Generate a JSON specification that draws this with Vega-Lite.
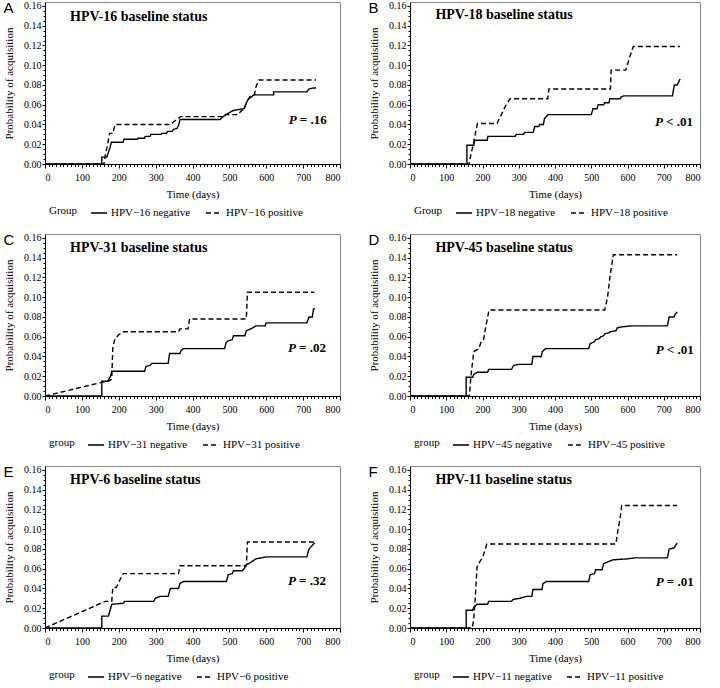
{
  "$schema": "https://vega.github.io/schema/vega-lite/v6.json",
  "padding": {"left": 3, "top": 0, "right": 0, "bottom": 0},
  "background": "white",
  "datasets": {
    "km": [
      {"p":"A","g":"neg","t":0,"y":0},{"p":"A","g":"neg","t":154,"y":0},{"p":"A","g":"neg","t":154,"y":0.007},{"p":"A","g":"neg","t":168,"y":0.007},{"p":"A","g":"neg","t":172,"y":0.012},{"p":"A","g":"neg","t":176,"y":0.016},{"p":"A","g":"neg","t":180,"y":0.022},{"p":"A","g":"neg","t":212,"y":0.022},{"p":"A","g":"neg","t":214,"y":0.025},{"p":"A","g":"neg","t":250,"y":0.025},{"p":"A","g":"neg","t":252,"y":0.026},{"p":"A","g":"neg","t":270,"y":0.026},{"p":"A","g":"neg","t":272,"y":0.028},{"p":"A","g":"neg","t":285,"y":0.028},{"p":"A","g":"neg","t":287,"y":0.030},{"p":"A","g":"neg","t":315,"y":0.030},{"p":"A","g":"neg","t":317,"y":0.031},{"p":"A","g":"neg","t":330,"y":0.031},{"p":"A","g":"neg","t":332,"y":0.033},{"p":"A","g":"neg","t":345,"y":0.033},{"p":"A","g":"neg","t":348,"y":0.035},{"p":"A","g":"neg","t":358,"y":0.036},{"p":"A","g":"neg","t":362,"y":0.039},{"p":"A","g":"neg","t":366,"y":0.045},{"p":"A","g":"neg","t":475,"y":0.045},{"p":"A","g":"neg","t":480,"y":0.047},{"p":"A","g":"neg","t":490,"y":0.050},{"p":"A","g":"neg","t":500,"y":0.052},{"p":"A","g":"neg","t":510,"y":0.054},{"p":"A","g":"neg","t":522,"y":0.055},{"p":"A","g":"neg","t":540,"y":0.056},{"p":"A","g":"neg","t":546,"y":0.062},{"p":"A","g":"neg","t":552,"y":0.066},{"p":"A","g":"neg","t":560,"y":0.068},{"p":"A","g":"neg","t":566,"y":0.070},{"p":"A","g":"neg","t":620,"y":0.070},{"p":"A","g":"neg","t":620,"y":0.073},{"p":"A","g":"neg","t":710,"y":0.073},{"p":"A","g":"neg","t":716,"y":0.076},{"p":"A","g":"neg","t":728,"y":0.077},{"p":"A","g":"neg","t":735,"y":0.077},
      {"p":"A","g":"pos","t":0,"y":0},{"p":"A","g":"pos","t":160,"y":0},{"p":"A","g":"pos","t":164,"y":0.010},{"p":"A","g":"pos","t":170,"y":0.020},{"p":"A","g":"pos","t":175,"y":0.031},{"p":"A","g":"pos","t":184,"y":0.031},{"p":"A","g":"pos","t":190,"y":0.040},{"p":"A","g":"pos","t":340,"y":0.040},{"p":"A","g":"pos","t":350,"y":0.043},{"p":"A","g":"pos","t":365,"y":0.047},{"p":"A","g":"pos","t":367,"y":0.048},{"p":"A","g":"pos","t":488,"y":0.048},{"p":"A","g":"pos","t":490,"y":0.050},{"p":"A","g":"pos","t":525,"y":0.050},{"p":"A","g":"pos","t":530,"y":0.053},{"p":"A","g":"pos","t":540,"y":0.056},{"p":"A","g":"pos","t":548,"y":0.063},{"p":"A","g":"pos","t":555,"y":0.068},{"p":"A","g":"pos","t":568,"y":0.070},{"p":"A","g":"pos","t":572,"y":0.078},{"p":"A","g":"pos","t":580,"y":0.085},{"p":"A","g":"pos","t":735,"y":0.085},
      {"p":"B","g":"neg","t":0,"y":0},{"p":"B","g":"neg","t":157,"y":0},{"p":"B","g":"neg","t":157,"y":0.019},{"p":"B","g":"neg","t":176,"y":0.019},{"p":"B","g":"neg","t":178,"y":0.024},{"p":"B","g":"neg","t":213,"y":0.024},{"p":"B","g":"neg","t":215,"y":0.028},{"p":"B","g":"neg","t":290,"y":0.028},{"p":"B","g":"neg","t":293,"y":0.030},{"p":"B","g":"neg","t":313,"y":0.030},{"p":"B","g":"neg","t":316,"y":0.032},{"p":"B","g":"neg","t":340,"y":0.032},{"p":"B","g":"neg","t":344,"y":0.038},{"p":"B","g":"neg","t":355,"y":0.038},{"p":"B","g":"neg","t":358,"y":0.040},{"p":"B","g":"neg","t":368,"y":0.040},{"p":"B","g":"neg","t":371,"y":0.046},{"p":"B","g":"neg","t":381,"y":0.050},{"p":"B","g":"neg","t":500,"y":0.050},{"p":"B","g":"neg","t":505,"y":0.056},{"p":"B","g":"neg","t":516,"y":0.056},{"p":"B","g":"neg","t":519,"y":0.060},{"p":"B","g":"neg","t":534,"y":0.060},{"p":"B","g":"neg","t":537,"y":0.062},{"p":"B","g":"neg","t":549,"y":0.062},{"p":"B","g":"neg","t":551,"y":0.066},{"p":"B","g":"neg","t":580,"y":0.066},{"p":"B","g":"neg","t":583,"y":0.068},{"p":"B","g":"neg","t":590,"y":0.069},{"p":"B","g":"neg","t":724,"y":0.069},{"p":"B","g":"neg","t":729,"y":0.080},{"p":"B","g":"neg","t":737,"y":0.080},{"p":"B","g":"neg","t":745,"y":0.086},
      {"p":"B","g":"pos","t":0,"y":0},{"p":"B","g":"pos","t":163,"y":0},{"p":"B","g":"pos","t":168,"y":0.010},{"p":"B","g":"pos","t":175,"y":0.020},{"p":"B","g":"pos","t":181,"y":0.032},{"p":"B","g":"pos","t":186,"y":0.041},{"p":"B","g":"pos","t":240,"y":0.041},{"p":"B","g":"pos","t":252,"y":0.050},{"p":"B","g":"pos","t":265,"y":0.060},{"p":"B","g":"pos","t":276,"y":0.066},{"p":"B","g":"pos","t":380,"y":0.066},{"p":"B","g":"pos","t":383,"y":0.076},{"p":"B","g":"pos","t":553,"y":0.076},{"p":"B","g":"pos","t":555,"y":0.095},{"p":"B","g":"pos","t":595,"y":0.095},{"p":"B","g":"pos","t":605,"y":0.107},{"p":"B","g":"pos","t":616,"y":0.119},{"p":"B","g":"pos","t":745,"y":0.119},
      {"p":"C","g":"neg","t":0,"y":0},{"p":"C","g":"neg","t":154,"y":0},{"p":"C","g":"neg","t":154,"y":0.015},{"p":"C","g":"neg","t":172,"y":0.015},{"p":"C","g":"neg","t":174,"y":0.018},{"p":"C","g":"neg","t":178,"y":0.020},{"p":"C","g":"neg","t":181,"y":0.025},{"p":"C","g":"neg","t":270,"y":0.025},{"p":"C","g":"neg","t":274,"y":0.030},{"p":"C","g":"neg","t":285,"y":0.031},{"p":"C","g":"neg","t":290,"y":0.033},{"p":"C","g":"neg","t":334,"y":0.033},{"p":"C","g":"neg","t":338,"y":0.043},{"p":"C","g":"neg","t":366,"y":0.043},{"p":"C","g":"neg","t":369,"y":0.046},{"p":"C","g":"neg","t":375,"y":0.048},{"p":"C","g":"neg","t":487,"y":0.048},{"p":"C","g":"neg","t":491,"y":0.054},{"p":"C","g":"neg","t":497,"y":0.056},{"p":"C","g":"neg","t":508,"y":0.057},{"p":"C","g":"neg","t":511,"y":0.061},{"p":"C","g":"neg","t":542,"y":0.061},{"p":"C","g":"neg","t":546,"y":0.066},{"p":"C","g":"neg","t":558,"y":0.068},{"p":"C","g":"neg","t":572,"y":0.071},{"p":"C","g":"neg","t":597,"y":0.071},{"p":"C","g":"neg","t":600,"y":0.074},{"p":"C","g":"neg","t":710,"y":0.074},{"p":"C","g":"neg","t":716,"y":0.080},{"p":"C","g":"neg","t":725,"y":0.080},{"p":"C","g":"neg","t":728,"y":0.088},{"p":"C","g":"neg","t":732,"y":0.088},
      {"p":"C","g":"pos","t":0,"y":0},{"p":"C","g":"pos","t":178,"y":0.016},{"p":"C","g":"pos","t":181,"y":0.018},{"p":"C","g":"pos","t":184,"y":0.050},{"p":"C","g":"pos","t":190,"y":0.058},{"p":"C","g":"pos","t":200,"y":0.062},{"p":"C","g":"pos","t":212,"y":0.065},{"p":"C","g":"pos","t":362,"y":0.065},{"p":"C","g":"pos","t":366,"y":0.068},{"p":"C","g":"pos","t":388,"y":0.068},{"p":"C","g":"pos","t":392,"y":0.078},{"p":"C","g":"pos","t":546,"y":0.078},{"p":"C","g":"pos","t":549,"y":0.105},{"p":"C","g":"pos","t":730,"y":0.105},
      {"p":"D","g":"neg","t":0,"y":0},{"p":"D","g":"neg","t":155,"y":0},{"p":"D","g":"neg","t":155,"y":0.019},{"p":"D","g":"neg","t":173,"y":0.019},{"p":"D","g":"neg","t":176,"y":0.022},{"p":"D","g":"neg","t":186,"y":0.024},{"p":"D","g":"neg","t":214,"y":0.024},{"p":"D","g":"neg","t":217,"y":0.027},{"p":"D","g":"neg","t":280,"y":0.027},{"p":"D","g":"neg","t":286,"y":0.031},{"p":"D","g":"neg","t":300,"y":0.032},{"p":"D","g":"neg","t":336,"y":0.032},{"p":"D","g":"neg","t":339,"y":0.040},{"p":"D","g":"neg","t":362,"y":0.040},{"p":"D","g":"neg","t":365,"y":0.045},{"p":"D","g":"neg","t":374,"y":0.048},{"p":"D","g":"neg","t":493,"y":0.048},{"p":"D","g":"neg","t":497,"y":0.053},{"p":"D","g":"neg","t":509,"y":0.055},{"p":"D","g":"neg","t":512,"y":0.057},{"p":"D","g":"neg","t":522,"y":0.058},{"p":"D","g":"neg","t":526,"y":0.060},{"p":"D","g":"neg","t":534,"y":0.061},{"p":"D","g":"neg","t":537,"y":0.063},{"p":"D","g":"neg","t":548,"y":0.064},{"p":"D","g":"neg","t":552,"y":0.065},{"p":"D","g":"neg","t":568,"y":0.066},{"p":"D","g":"neg","t":572,"y":0.069},{"p":"D","g":"neg","t":585,"y":0.070},{"p":"D","g":"neg","t":612,"y":0.071},{"p":"D","g":"neg","t":710,"y":0.071},{"p":"D","g":"neg","t":715,"y":0.080},{"p":"D","g":"neg","t":728,"y":0.080},{"p":"D","g":"neg","t":732,"y":0.083},{"p":"D","g":"neg","t":737,"y":0.085},
      {"p":"D","g":"pos","t":0,"y":0},{"p":"D","g":"pos","t":164,"y":0},{"p":"D","g":"pos","t":168,"y":0.020},{"p":"D","g":"pos","t":176,"y":0.045},{"p":"D","g":"pos","t":190,"y":0.048},{"p":"D","g":"pos","t":196,"y":0.055},{"p":"D","g":"pos","t":203,"y":0.057},{"p":"D","g":"pos","t":209,"y":0.070},{"p":"D","g":"pos","t":218,"y":0.087},{"p":"D","g":"pos","t":537,"y":0.087},{"p":"D","g":"pos","t":545,"y":0.100},{"p":"D","g":"pos","t":552,"y":0.122},{"p":"D","g":"pos","t":561,"y":0.143},{"p":"D","g":"pos","t":737,"y":0.143},
      {"p":"E","g":"neg","t":0,"y":0},{"p":"E","g":"neg","t":154,"y":0},{"p":"E","g":"neg","t":154,"y":0.012},{"p":"E","g":"neg","t":172,"y":0.012},{"p":"E","g":"neg","t":175,"y":0.016},{"p":"E","g":"neg","t":181,"y":0.024},{"p":"E","g":"neg","t":212,"y":0.025},{"p":"E","g":"neg","t":216,"y":0.027},{"p":"E","g":"neg","t":295,"y":0.027},{"p":"E","g":"neg","t":299,"y":0.030},{"p":"E","g":"neg","t":312,"y":0.032},{"p":"E","g":"neg","t":334,"y":0.032},{"p":"E","g":"neg","t":340,"y":0.040},{"p":"E","g":"neg","t":362,"y":0.040},{"p":"E","g":"neg","t":366,"y":0.045},{"p":"E","g":"neg","t":375,"y":0.047},{"p":"E","g":"neg","t":492,"y":0.047},{"p":"E","g":"neg","t":497,"y":0.054},{"p":"E","g":"neg","t":508,"y":0.055},{"p":"E","g":"neg","t":511,"y":0.058},{"p":"E","g":"neg","t":535,"y":0.058},{"p":"E","g":"neg","t":540,"y":0.060},{"p":"E","g":"neg","t":546,"y":0.064},{"p":"E","g":"neg","t":556,"y":0.066},{"p":"E","g":"neg","t":572,"y":0.070},{"p":"E","g":"neg","t":600,"y":0.072},{"p":"E","g":"neg","t":710,"y":0.072},{"p":"E","g":"neg","t":716,"y":0.080},{"p":"E","g":"neg","t":728,"y":0.085},{"p":"E","g":"neg","t":732,"y":0.086},
      {"p":"E","g":"pos","t":0,"y":0},{"p":"E","g":"pos","t":163,"y":0.027},{"p":"E","g":"pos","t":181,"y":0.027},{"p":"E","g":"pos","t":184,"y":0.041},{"p":"E","g":"pos","t":193,"y":0.041},{"p":"E","g":"pos","t":205,"y":0.050},{"p":"E","g":"pos","t":212,"y":0.055},{"p":"E","g":"pos","t":362,"y":0.055},{"p":"E","g":"pos","t":366,"y":0.063},{"p":"E","g":"pos","t":546,"y":0.063},{"p":"E","g":"pos","t":549,"y":0.087},{"p":"E","g":"pos","t":732,"y":0.087},
      {"p":"F","g":"neg","t":0,"y":0},{"p":"F","g":"neg","t":155,"y":0},{"p":"F","g":"neg","t":155,"y":0.018},{"p":"F","g":"neg","t":173,"y":0.018},{"p":"F","g":"neg","t":176,"y":0.021},{"p":"F","g":"neg","t":185,"y":0.024},{"p":"F","g":"neg","t":214,"y":0.024},{"p":"F","g":"neg","t":217,"y":0.027},{"p":"F","g":"neg","t":280,"y":0.027},{"p":"F","g":"neg","t":285,"y":0.029},{"p":"F","g":"neg","t":303,"y":0.030},{"p":"F","g":"neg","t":320,"y":0.032},{"p":"F","g":"neg","t":336,"y":0.032},{"p":"F","g":"neg","t":339,"y":0.039},{"p":"F","g":"neg","t":364,"y":0.039},{"p":"F","g":"neg","t":367,"y":0.045},{"p":"F","g":"neg","t":377,"y":0.047},{"p":"F","g":"neg","t":493,"y":0.047},{"p":"F","g":"neg","t":497,"y":0.054},{"p":"F","g":"neg","t":509,"y":0.055},{"p":"F","g":"neg","t":512,"y":0.059},{"p":"F","g":"neg","t":530,"y":0.059},{"p":"F","g":"neg","t":534,"y":0.065},{"p":"F","g":"neg","t":546,"y":0.067},{"p":"F","g":"neg","t":560,"y":0.069},{"p":"F","g":"neg","t":600,"y":0.070},{"p":"F","g":"neg","t":620,"y":0.071},{"p":"F","g":"neg","t":710,"y":0.071},{"p":"F","g":"neg","t":715,"y":0.080},{"p":"F","g":"neg","t":728,"y":0.081},{"p":"F","g":"neg","t":737,"y":0.086},
      {"p":"F","g":"pos","t":0,"y":0},{"p":"F","g":"pos","t":172,"y":0},{"p":"F","g":"pos","t":176,"y":0.010},{"p":"F","g":"pos","t":180,"y":0.030},{"p":"F","g":"pos","t":185,"y":0.062},{"p":"F","g":"pos","t":194,"y":0.068},{"p":"F","g":"pos","t":200,"y":0.071},{"p":"F","g":"pos","t":212,"y":0.085},{"p":"F","g":"pos","t":568,"y":0.085},{"p":"F","g":"pos","t":574,"y":0.100},{"p":"F","g":"pos","t":580,"y":0.112},{"p":"F","g":"pos","t":584,"y":0.124},{"p":"F","g":"pos","t":737,"y":0.124}
    ]
  },
  "columns": 2,
  "spacing": {"row": 9, "column": 27},
  "concat": [
    {
      "width": 295, "height": 162, "title": "A",
      "data": {"name": "km"},
      "transform": [{"filter": "datum.p == 'A'"}],
      "layer": [
        {"mark": {"type": "line", "color": "black", "strokeWidth": 1.4},
         "encoding": {
           "x": {"field": "t", "type": "quantitative", "scale": {"domain": [0, 800], "nice": false}, "axis": {"values": [0,100,200,300,400,500,600,700,800], "title": "Time (days)"}},
           "y": {"field": "y", "type": "quantitative", "scale": {"domain": [0, 0.164], "nice": false}, "axis": {"values": [0,0.02,0.04,0.06,0.08,0.1,0.12,0.14,0.16], "format": ".2f", "title": "Probability of acquisition"}},
           "strokeDash": {"field": "g", "type": "nominal", "scale": {"domain": ["neg","pos"], "range": [[1,0],[5,3]]}, "legend": {"title": "Group", "labelExpr": "datum.label == 'neg' ? 'HPV−16 negative' : 'HPV−16 positive'"}},
           "order": [{"field": "t", "type": "quantitative"}, {"field": "y", "type": "quantitative"}]
         }},
        {"data": {"values": [{}]}, "mark": {"type": "text", "text": "HPV-16 baseline status", "fontWeight": "bold", "fontSize": 14, "align": "left", "baseline": "middle"},
         "encoding": {
           "x": {"datum": 68, "type": "quantitative", "axis": {"orient": "bottom", "values": [0,10,20,30,40,50,60,70,80,90,100,110,120,130,140,150,160,170,180,190,200,210,220,230,240,250,260,270,280,290,300,310,320,330,340,350,360,370,380,390,400,410,420,430,440,450,460,470,480,490,500,510,520,530,540,550,560,570,580,590,600,610,620,630,640,650,660,670,680,690,700,710,720,730,740,750,760,770,780,790,800], "labels": false, "domain": false, "tickSize": 2.5, "title": null}},
           "y": {"datum": 0.149, "type": "quantitative", "axis": {"orient": "left", "values": [0,0.005,0.01,0.015,0.02,0.025,0.03,0.035,0.04,0.045,0.05,0.055,0.06,0.065,0.07,0.075,0.08,0.085,0.09,0.095,0.1,0.105,0.11,0.115,0.12,0.125,0.13,0.135,0.14,0.145,0.15,0.155,0.16], "labels": false, "domain": false, "tickSize": 2, "title": null}}
         }},
        {"data": {"values": [{}]}, "mark": {"type": "text", "text": "P", "fontWeight": "bold", "fontStyle": "italic", "fontSize": 13, "align": "left", "baseline": "middle"},
         "encoding": {"x": {"datum": 661, "type": "quantitative", "axis": null}, "y": {"datum": 0.045, "type": "quantitative", "axis": null}}},
        {"data": {"values": [{}]}, "mark": {"type": "text", "text": "= .16", "fontWeight": "bold", "fontSize": 13, "align": "left", "baseline": "middle", "dx": 11},
         "encoding": {"x": {"datum": 661, "type": "quantitative", "axis": null}, "y": {"datum": 0.045, "type": "quantitative", "axis": null}}}
      ],
      "resolve": {"axis": {"x": "independent", "y": "independent"}}
    },
    {
      "width": 290, "height": 162, "title": "B",
      "data": {"name": "km"},
      "transform": [{"filter": "datum.p == 'B'"}],
      "layer": [
        {"mark": {"type": "line", "color": "black", "strokeWidth": 1.4},
         "encoding": {
           "x": {"field": "t", "type": "quantitative", "scale": {"domain": [0, 800], "nice": false}, "axis": {"values": [0,100,200,300,400,500,600,700,800], "title": "Time (days)"}},
           "y": {"field": "y", "type": "quantitative", "scale": {"domain": [0, 0.164], "nice": false}, "axis": {"values": [0,0.02,0.04,0.06,0.08,0.1,0.12,0.14,0.16], "format": ".2f", "title": "Probability of acquisition"}},
           "strokeDash": {"field": "g", "type": "nominal", "scale": {"domain": ["neg","pos"], "range": [[1,0],[5,3]]}, "legend": {"title": "Group", "labelExpr": "datum.label == 'neg' ? 'HPV−18 negative' : 'HPV−18 positive'"}},
           "order": [{"field": "t", "type": "quantitative"}, {"field": "y", "type": "quantitative"}]
         }},
        {"data": {"values": [{}]}, "mark": {"type": "text", "text": "HPV-18 baseline status", "fontWeight": "bold", "fontSize": 14, "align": "left", "baseline": "middle"},
         "encoding": {
           "x": {"datum": 70, "type": "quantitative", "axis": {"orient": "bottom", "values": [0,10,20,30,40,50,60,70,80,90,100,110,120,130,140,150,160,170,180,190,200,210,220,230,240,250,260,270,280,290,300,310,320,330,340,350,360,370,380,390,400,410,420,430,440,450,460,470,480,490,500,510,520,530,540,550,560,570,580,590,600,610,620,630,640,650,660,670,680,690,700,710,720,730,740,750,760,770,780,790,800], "labels": false, "domain": false, "tickSize": 2.5, "title": null}},
           "y": {"datum": 0.151, "type": "quantitative", "axis": {"orient": "left", "values": [0,0.005,0.01,0.015,0.02,0.025,0.03,0.035,0.04,0.045,0.05,0.055,0.06,0.065,0.07,0.075,0.08,0.085,0.09,0.095,0.1,0.105,0.11,0.115,0.12,0.125,0.13,0.135,0.14,0.145,0.15,0.155,0.16], "labels": false, "domain": false, "tickSize": 2, "title": null}}
         }},
        {"data": {"values": [{}]}, "mark": {"type": "text", "text": "P", "fontWeight": "bold", "fontStyle": "italic", "fontSize": 13, "align": "left", "baseline": "middle"},
         "encoding": {"x": {"datum": 676, "type": "quantitative", "axis": null}, "y": {"datum": 0.043, "type": "quantitative", "axis": null}}},
        {"data": {"values": [{}]}, "mark": {"type": "text", "text": "< .01", "fontWeight": "bold", "fontSize": 13, "align": "left", "baseline": "middle", "dx": 11},
         "encoding": {"x": {"datum": 676, "type": "quantitative", "axis": null}, "y": {"datum": 0.043, "type": "quantitative", "axis": null}}}
      ],
      "resolve": {"axis": {"x": "independent", "y": "independent"}}
    },
    {
      "width": 295, "height": 162, "title": "C",
      "data": {"name": "km"},
      "transform": [{"filter": "datum.p == 'C'"}],
      "layer": [
        {"mark": {"type": "line", "color": "black", "strokeWidth": 1.4},
         "encoding": {
           "x": {"field": "t", "type": "quantitative", "scale": {"domain": [0, 800], "nice": false}, "axis": {"values": [0,100,200,300,400,500,600,700,800], "title": "Time (days)"}},
           "y": {"field": "y", "type": "quantitative", "scale": {"domain": [0, 0.164], "nice": false}, "axis": {"values": [0,0.02,0.04,0.06,0.08,0.1,0.12,0.14,0.16], "format": ".2f", "title": "Probability of acquisition"}},
           "strokeDash": {"field": "g", "type": "nominal", "scale": {"domain": ["neg","pos"], "range": [[1,0],[5,3]]}, "legend": {"title": "group", "labelExpr": "datum.label == 'neg' ? 'HPV−31 negative' : 'HPV−31 positive'"}},
           "order": [{"field": "t", "type": "quantitative"}, {"field": "y", "type": "quantitative"}]
         }},
        {"data": {"values": [{}]}, "mark": {"type": "text", "text": "HPV-31 baseline status", "fontWeight": "bold", "fontSize": 14, "align": "left", "baseline": "middle"},
         "encoding": {
           "x": {"datum": 68, "type": "quantitative", "axis": {"orient": "bottom", "values": [0,10,20,30,40,50,60,70,80,90,100,110,120,130,140,150,160,170,180,190,200,210,220,230,240,250,260,270,280,290,300,310,320,330,340,350,360,370,380,390,400,410,420,430,440,450,460,470,480,490,500,510,520,530,540,550,560,570,580,590,600,610,620,630,640,650,660,670,680,690,700,710,720,730,740,750,760,770,780,790,800], "labels": false, "domain": false, "tickSize": 2.5, "title": null}},
           "y": {"datum": 0.15, "type": "quantitative", "axis": {"orient": "left", "values": [0,0.005,0.01,0.015,0.02,0.025,0.03,0.035,0.04,0.045,0.05,0.055,0.06,0.065,0.07,0.075,0.08,0.085,0.09,0.095,0.1,0.105,0.11,0.115,0.12,0.125,0.13,0.135,0.14,0.145,0.15,0.155,0.16], "labels": false, "domain": false, "tickSize": 2, "title": null}}
         }},
        {"data": {"values": [{}]}, "mark": {"type": "text", "text": "P", "fontWeight": "bold", "fontStyle": "italic", "fontSize": 13, "align": "left", "baseline": "middle"},
         "encoding": {"x": {"datum": 659, "type": "quantitative", "axis": null}, "y": {"datum": 0.049, "type": "quantitative", "axis": null}}},
        {"data": {"values": [{}]}, "mark": {"type": "text", "text": "= .02", "fontWeight": "bold", "fontSize": 13, "align": "left", "baseline": "middle", "dx": 11},
         "encoding": {"x": {"datum": 659, "type": "quantitative", "axis": null}, "y": {"datum": 0.049, "type": "quantitative", "axis": null}}}
      ],
      "resolve": {"axis": {"x": "independent", "y": "independent"}}
    },
    {
      "width": 290, "height": 162, "title": "D",
      "data": {"name": "km"},
      "transform": [{"filter": "datum.p == 'D'"}],
      "layer": [
        {"mark": {"type": "line", "color": "black", "strokeWidth": 1.4},
         "encoding": {
           "x": {"field": "t", "type": "quantitative", "scale": {"domain": [0, 800], "nice": false}, "axis": {"values": [0,100,200,300,400,500,600,700,800], "title": "Time (days)"}},
           "y": {"field": "y", "type": "quantitative", "scale": {"domain": [0, 0.164], "nice": false}, "axis": {"values": [0,0.02,0.04,0.06,0.08,0.1,0.12,0.14,0.16], "format": ".2f", "title": "Probability of acquisition"}},
           "strokeDash": {"field": "g", "type": "nominal", "scale": {"domain": ["neg","pos"], "range": [[1,0],[5,3]]}, "legend": {"title": "group", "labelExpr": "datum.label == 'neg' ? 'HPV−45 negative' : 'HPV−45 positive'"}},
           "order": [{"field": "t", "type": "quantitative"}, {"field": "y", "type": "quantitative"}]
         }},
        {"data": {"values": [{}]}, "mark": {"type": "text", "text": "HPV-45 baseline status", "fontWeight": "bold", "fontSize": 14, "align": "left", "baseline": "middle"},
         "encoding": {
           "x": {"datum": 70, "type": "quantitative", "axis": {"orient": "bottom", "values": [0,10,20,30,40,50,60,70,80,90,100,110,120,130,140,150,160,170,180,190,200,210,220,230,240,250,260,270,280,290,300,310,320,330,340,350,360,370,380,390,400,410,420,430,440,450,460,470,480,490,500,510,520,530,540,550,560,570,580,590,600,610,620,630,640,650,660,670,680,690,700,710,720,730,740,750,760,770,780,790,800], "labels": false, "domain": false, "tickSize": 2.5, "title": null}},
           "y": {"datum": 0.15, "type": "quantitative", "axis": {"orient": "left", "values": [0,0.005,0.01,0.015,0.02,0.025,0.03,0.035,0.04,0.045,0.05,0.055,0.06,0.065,0.07,0.075,0.08,0.085,0.09,0.095,0.1,0.105,0.11,0.115,0.12,0.125,0.13,0.135,0.14,0.145,0.15,0.155,0.16], "labels": false, "domain": false, "tickSize": 2, "title": null}}
         }},
        {"data": {"values": [{}]}, "mark": {"type": "text", "text": "P", "fontWeight": "bold", "fontStyle": "italic", "fontSize": 13, "align": "left", "baseline": "middle"},
         "encoding": {"x": {"datum": 678, "type": "quantitative", "axis": null}, "y": {"datum": 0.047, "type": "quantitative", "axis": null}}},
        {"data": {"values": [{}]}, "mark": {"type": "text", "text": "< .01", "fontWeight": "bold", "fontSize": 13, "align": "left", "baseline": "middle", "dx": 11},
         "encoding": {"x": {"datum": 678, "type": "quantitative", "axis": null}, "y": {"datum": 0.047, "type": "quantitative", "axis": null}}}
      ],
      "resolve": {"axis": {"x": "independent", "y": "independent"}}
    },
    {
      "width": 295, "height": 162, "title": "E",
      "data": {"name": "km"},
      "transform": [{"filter": "datum.p == 'E'"}],
      "layer": [
        {"mark": {"type": "line", "color": "black", "strokeWidth": 1.4},
         "encoding": {
           "x": {"field": "t", "type": "quantitative", "scale": {"domain": [0, 800], "nice": false}, "axis": {"values": [0,100,200,300,400,500,600,700,800], "title": "Time (days)"}},
           "y": {"field": "y", "type": "quantitative", "scale": {"domain": [0, 0.164], "nice": false}, "axis": {"values": [0,0.02,0.04,0.06,0.08,0.1,0.12,0.14,0.16], "format": ".2f", "title": "Probability of acquisition"}},
           "strokeDash": {"field": "g", "type": "nominal", "scale": {"domain": ["neg","pos"], "range": [[1,0],[5,3]]}, "legend": {"title": "group", "labelExpr": "datum.label == 'neg' ? 'HPV−6 negative' : 'HPV−6 positive'"}},
           "order": [{"field": "t", "type": "quantitative"}, {"field": "y", "type": "quantitative"}]
         }},
        {"data": {"values": [{}]}, "mark": {"type": "text", "text": "HPV-6 baseline status", "fontWeight": "bold", "fontSize": 14, "align": "left", "baseline": "middle"},
         "encoding": {
           "x": {"datum": 68, "type": "quantitative", "axis": {"orient": "bottom", "values": [0,10,20,30,40,50,60,70,80,90,100,110,120,130,140,150,160,170,180,190,200,210,220,230,240,250,260,270,280,290,300,310,320,330,340,350,360,370,380,390,400,410,420,430,440,450,460,470,480,490,500,510,520,530,540,550,560,570,580,590,600,610,620,630,640,650,660,670,680,690,700,710,720,730,740,750,760,770,780,790,800], "labels": false, "domain": false, "tickSize": 2.5, "title": null}},
           "y": {"datum": 0.15, "type": "quantitative", "axis": {"orient": "left", "values": [0,0.005,0.01,0.015,0.02,0.025,0.03,0.035,0.04,0.045,0.05,0.055,0.06,0.065,0.07,0.075,0.08,0.085,0.09,0.095,0.1,0.105,0.11,0.115,0.12,0.125,0.13,0.135,0.14,0.145,0.15,0.155,0.16], "labels": false, "domain": false, "tickSize": 2, "title": null}}
         }},
        {"data": {"values": [{}]}, "mark": {"type": "text", "text": "P", "fontWeight": "bold", "fontStyle": "italic", "fontSize": 13, "align": "left", "baseline": "middle"},
         "encoding": {"x": {"datum": 659, "type": "quantitative", "axis": null}, "y": {"datum": 0.048, "type": "quantitative", "axis": null}}},
        {"data": {"values": [{}]}, "mark": {"type": "text", "text": "= .32", "fontWeight": "bold", "fontSize": 13, "align": "left", "baseline": "middle", "dx": 11},
         "encoding": {"x": {"datum": 659, "type": "quantitative", "axis": null}, "y": {"datum": 0.048, "type": "quantitative", "axis": null}}}
      ],
      "resolve": {"axis": {"x": "independent", "y": "independent"}}
    },
    {
      "width": 290, "height": 162, "title": "F",
      "data": {"name": "km"},
      "transform": [{"filter": "datum.p == 'F'"}],
      "layer": [
        {"mark": {"type": "line", "color": "black", "strokeWidth": 1.4},
         "encoding": {
           "x": {"field": "t", "type": "quantitative", "scale": {"domain": [0, 800], "nice": false}, "axis": {"values": [0,100,200,300,400,500,600,700,800], "title": "Time (days)"}},
           "y": {"field": "y", "type": "quantitative", "scale": {"domain": [0, 0.164], "nice": false}, "axis": {"values": [0,0.02,0.04,0.06,0.08,0.1,0.12,0.14,0.16], "format": ".2f", "title": "Probability of acquisition"}},
           "strokeDash": {"field": "g", "type": "nominal", "scale": {"domain": ["neg","pos"], "range": [[1,0],[5,3]]}, "legend": {"title": "group", "labelExpr": "datum.label == 'neg' ? 'HPV−11 negative' : 'HPV−11 positive'"}},
           "order": [{"field": "t", "type": "quantitative"}, {"field": "y", "type": "quantitative"}]
         }},
        {"data": {"values": [{}]}, "mark": {"type": "text", "text": "HPV-11 baseline status", "fontWeight": "bold", "fontSize": 14, "align": "left", "baseline": "middle"},
         "encoding": {
           "x": {"datum": 70, "type": "quantitative", "axis": {"orient": "bottom", "values": [0,10,20,30,40,50,60,70,80,90,100,110,120,130,140,150,160,170,180,190,200,210,220,230,240,250,260,270,280,290,300,310,320,330,340,350,360,370,380,390,400,410,420,430,440,450,460,470,480,490,500,510,520,530,540,550,560,570,580,590,600,610,620,630,640,650,660,670,680,690,700,710,720,730,740,750,760,770,780,790,800], "labels": false, "domain": false, "tickSize": 2.5, "title": null}},
           "y": {"datum": 0.15, "type": "quantitative", "axis": {"orient": "left", "values": [0,0.005,0.01,0.015,0.02,0.025,0.03,0.035,0.04,0.045,0.05,0.055,0.06,0.065,0.07,0.075,0.08,0.085,0.09,0.095,0.1,0.105,0.11,0.115,0.12,0.125,0.13,0.135,0.14,0.145,0.15,0.155,0.16], "labels": false, "domain": false, "tickSize": 2, "title": null}}
         }},
        {"data": {"values": [{}]}, "mark": {"type": "text", "text": "P", "fontWeight": "bold", "fontStyle": "italic", "fontSize": 13, "align": "left", "baseline": "middle"},
         "encoding": {"x": {"datum": 678, "type": "quantitative", "axis": null}, "y": {"datum": 0.047, "type": "quantitative", "axis": null}}},
        {"data": {"values": [{}]}, "mark": {"type": "text", "text": "= .01", "fontWeight": "bold", "fontSize": 13, "align": "left", "baseline": "middle", "dx": 11},
         "encoding": {"x": {"datum": 678, "type": "quantitative", "axis": null}, "y": {"datum": 0.047, "type": "quantitative", "axis": null}}}
      ],
      "resolve": {"axis": {"x": "independent", "y": "independent"}}
    }
  ],
  "resolve": {"scale": {"strokeDash": "independent"}, "legend": {"strokeDash": "independent"}},
  "config": {
    "font": "Liberation Serif",
    "view": {"stroke": "#8c8c8c", "strokeWidth": 1},
    "text": {"font": "Liberation Serif", "color": "black"},
    "title": {"font": "Liberation Sans", "fontSize": 15, "fontWeight": "normal", "color": "black", "anchor": "start", "frame": "bounds", "baseline": "top", "offset": -15, "dx": 0, "dy": 0},
    "axis": {
      "grid": false,
      "labelFont": "Liberation Serif", "labelFontSize": 10, "labelColor": "black", "labelPadding": 4,
      "titleFont": "Liberation Serif", "titleFontSize": 11, "titleFontWeight": "normal", "titleColor": "black",
      "domainColor": "black", "tickColor": "black", "tickSize": 4, "titlePadding": 6
    },
    "axisY": {"titlePadding": 9, "labelPadding": 1, "tickSize": 3},
    "legend": {
      "orient": "bottom", "direction": "horizontal", "titleOrient": "left", "offset": 1, "padding": 4,
      "titleFont": "Liberation Serif", "titleFontSize": 11, "titleFontWeight": "normal", "titleColor": "black", "titlePadding": 12,
      "labelFont": "Liberation Serif", "labelFontSize": 11, "labelColor": "black", "labelOffset": 3,
      "symbolType": "stroke", "symbolSize": 260, "symbolStrokeWidth": 1.4, "symbolStrokeColor": "black", "columnPadding": 12
    }
  }
}
